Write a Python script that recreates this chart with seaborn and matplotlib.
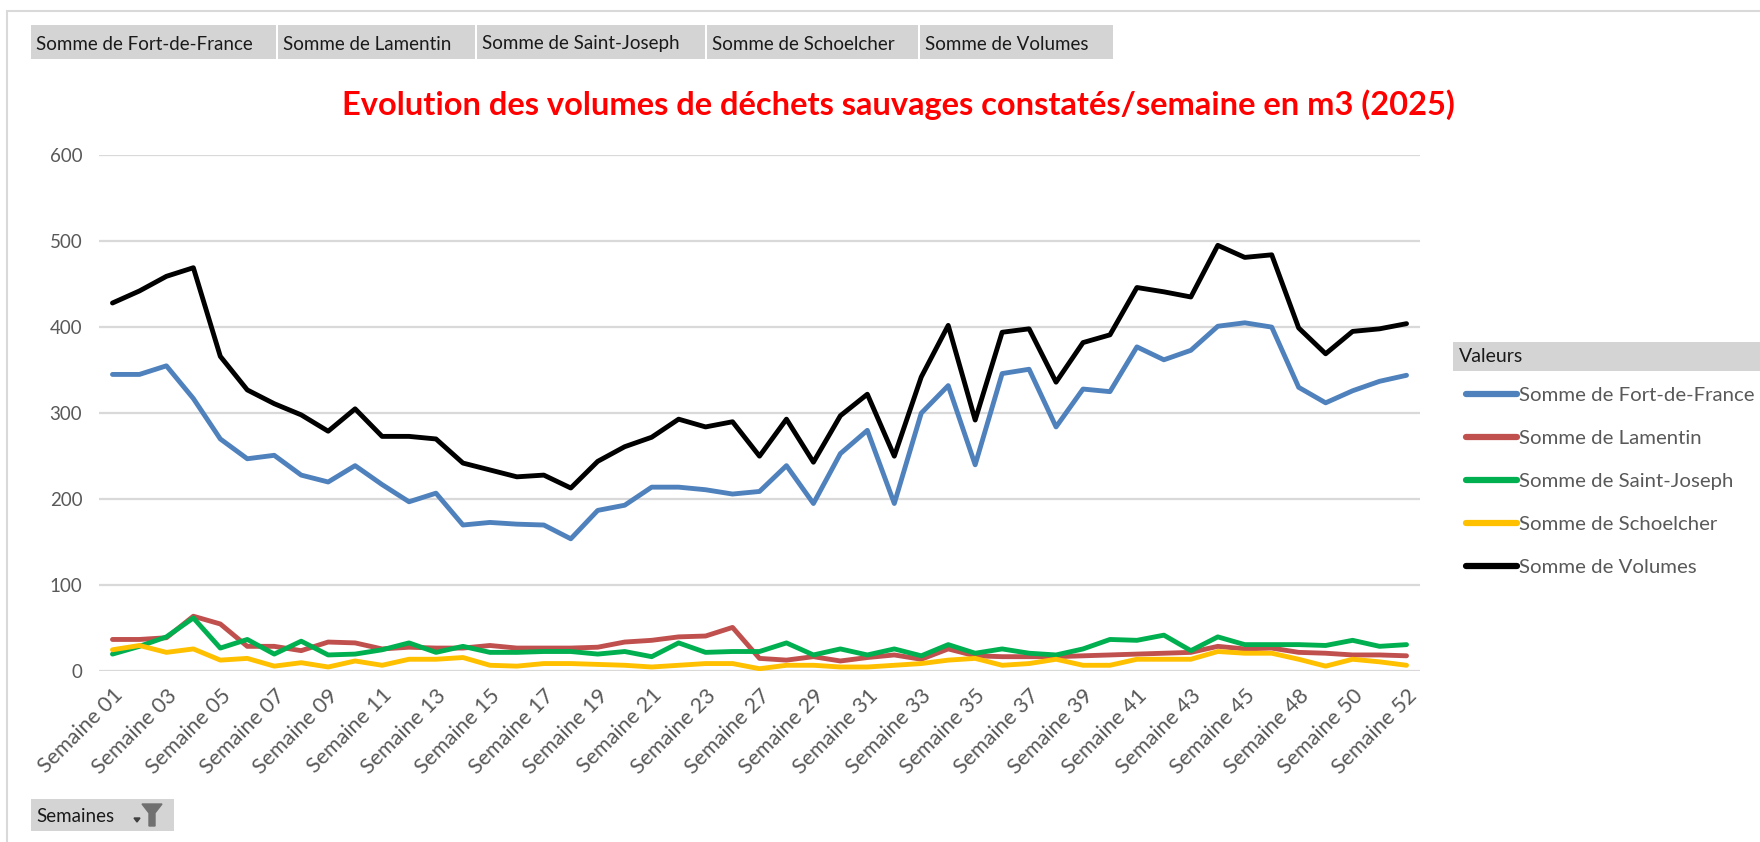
"""
Evolution des volumes de déchets sauvages par semaine (2025)
Recreation of an Excel pivot chart with seaborn
"""
import pandas as pd
import matplotlib
matplotlib.use("Agg")
import matplotlib.pyplot as plt
import seaborn as sns
from matplotlib.patches import Rectangle, Polygon

# ---- data (m3 per week) ----
weeks = ["01", "02", "03", "04", "05", "06", "07", "08", "09", "10", "11", "12",
         "13", "14", "15", "16", "17", "18", "19", "20", "21", "22", "23", "24",
         "27", "28", "29", "30", "31", "32", "33", "34", "35", "36", "37", "38",
         "39", "40", "41", "42", "43", "44", "45", "46", "48", "49", "50", "51", "52"]

fort_de_france = [345, 345, 355, 317, 270, 247, 251, 228, 220, 239, 217, 197,
                  207, 170, 173, 171, 170, 154, 187, 193, 214, 214, 211, 206,
                  209, 239, 195, 253, 280, 195, 300, 332, 240, 346, 351, 284,
                  328, 325, 377, 362, 373, 401, 405, 400, 330, 312, 326, 337, 344]
lamentin = [37, 37, 39, 64, 55, 29, 29, 24, 34, 33, 26, 28,
            27, 27, 30, 27, 27, 27, 28, 34, 36, 40, 41, 51,
            15, 13, 17, 12, 16, 19, 14, 26, 18, 17, 17, 17,
            18, 19, 20, 21, 22, 29, 26, 27, 22, 21, 19, 19, 18]
saint_joseph = [20, 29, 40, 62, 27, 37, 20, 35, 19, 20, 25, 33,
                22, 29, 22, 22, 23, 23, 20, 23, 17, 33, 22, 23,
                23, 33, 19, 26, 19, 26, 18, 31, 21, 26, 21, 19,
                26, 37, 36, 42, 24, 40, 31, 31, 31, 30, 36, 29, 31]
schoelcher = [25, 30, 22, 26, 13, 15, 6, 10, 5, 12, 7, 14,
              14, 16, 7, 6, 9, 9, 8, 7, 5, 7, 9, 9,
              3, 7, 7, 5, 5, 7, 9, 13, 15, 7, 9, 14,
              7, 7, 14, 14, 14, 23, 21, 21, 14, 6, 14, 11, 7]
volumes = [428, 442, 459, 469, 366, 327, 311, 298, 279, 305, 273, 273,
           270, 242, 234, 226, 228, 213, 244, 261, 272, 293, 284, 290,
           250, 293, 243, 297, 322, 250, 342, 402, 292, 394, 398, 336,
           382, 391, 446, 441, 435, 495, 481, 484, 399, 369, 395, 398, 404]

series_names = ["Somme de Fort-de-France", "Somme de Lamentin", "Somme de Saint-Joseph",
                "Somme de Schoelcher", "Somme de Volumes"]
series_values = [fort_de_france, lamentin, saint_joseph, schoelcher, volumes]
colors = ["#4F81BD", "#C0504D", "#00B050", "#FFC000", "#000000"]

labels = ["Semaine " + w for w in weeks]
rows = []
for name, vals in zip(series_names, series_values):
    for i, v in enumerate(vals):
        rows.append({"pos": i, "semaine": labels[i], "serie": name, "m3": v})
df = pd.DataFrame(rows)

# ---- figure ----
sns.set_style("white")
plt.rcParams["font.family"] = ["Lato", "DejaVu Sans"]

W, H = 1760, 842
fig = plt.figure(figsize=(W / 100, H / 100), dpi=100)


def fx(x):
    return x / W


def fy(y):
    return 1 - y / H


ax = fig.add_axes([fx(99), fy(671.3), fx(1420) - fx(99), fy(155) - fy(671.3)])

sns.lineplot(data=df, x="pos", y="m3", hue="serie", hue_order=series_names,
             palette=colors, linewidth=3.5, sort=False, legend=False, ax=ax)

ax.set_xlim(-0.5, len(weeks) - 0.5)
ax.set_ylim(0, 600)
ax.set_yticks(range(0, 601, 100))
ax.set_xticks(range(0, len(weeks), 2))
ax.set_xticklabels(labels[::2], rotation=45, ha="right", rotation_mode="anchor",
                   fontsize=15.5, color="#595959")
ax.tick_params(axis="y", labelsize=13.5, colors="#595959", length=0, pad=12)
ax.tick_params(axis="x", length=0, pad=10)
ax.set_xlabel("")
ax.set_ylabel("")
ax.grid(axis="y", color="#D9D9D9", linewidth=1.6)
ax.set_axisbelow(True)
for s in ax.spines.values():
    s.set_visible(False)

# title
fig.text(fx(898), fy(105), "Evolution des volumes de déchets sauvages constatés/semaine en m3 (2025)",
         ha="center", va="center", color="#FF0000", fontsize=23.5, fontweight="bold")

# outer chart border
fig.add_artist(Rectangle((fx(7), fy(900)), fx(1800), fy(11) - fy(900),
                         transform=fig.transFigure, fill=False, edgecolor="#D9D9D9", linewidth=1.5))

# pivot field buttons on top
buttons = [(31, 276), (278, 475), (477, 705), (707, 918), (920, 1113)]
for (x0, x1), name in zip(buttons, series_names):
    fig.add_artist(Rectangle((fx(x0), fy(59)), fx(x1 - x0), fy(25) - fy(59),
                             transform=fig.transFigure, facecolor="#D4D4D4", edgecolor="none"))
    fig.text(fx(x0 + 5), fy(44), name, ha="left", va="center", fontsize=13.5, color="#1A1A1A")

# "Semaines" field button
fig.add_artist(Rectangle((fx(31), fy(831)), fx(143), fy(799) - fy(831),
                         transform=fig.transFigure, facecolor="#D4D4D4", edgecolor="none"))
fig.text(fx(36), fy(816), "Semaines", ha="left", va="center", fontsize=13.5, color="#1A1A1A")
fig.add_artist(Polygon([(fx(134), fy(818)), (fx(140), fy(818)), (fx(137), fy(822))],
                       transform=fig.transFigure, color="#404040"))
fig.add_artist(Polygon([(fx(142), fy(804)), (fx(162), fy(804)), (fx(155), fy(813)),
                        (fx(155), fy(826)), (fx(149), fy(826)), (fx(149), fy(813))],
                       transform=fig.transFigure, color="#707070"))

# legend header "Valeurs"
fig.add_artist(Rectangle((fx(1453), fy(371)), fx(320), fy(342) - fy(371),
                         transform=fig.transFigure, facecolor="#D4D4D4", edgecolor="none"))
fig.text(fx(1459), fy(357), "Valeurs", ha="left", va="center", fontsize=14, color="#1A1A1A")

handles = ax.get_lines()[:len(series_names)]
leg = ax.legend(handles, series_names, loc="upper left", bbox_to_anchor=(fx(1466), fy(387)),
                bbox_transform=fig.transFigure, frameon=False, fontsize=14.7,
                handlelength=2.5, handletextpad=0.1, labelspacing=1.26,
                borderpad=0, borderaxespad=0)
for t in leg.get_texts():
    t.set_color("#595959")
for line in leg.get_lines():
    line.set_linewidth(4.5)

fig.savefig("out.png", dpi=100)
print("saved out.png")
